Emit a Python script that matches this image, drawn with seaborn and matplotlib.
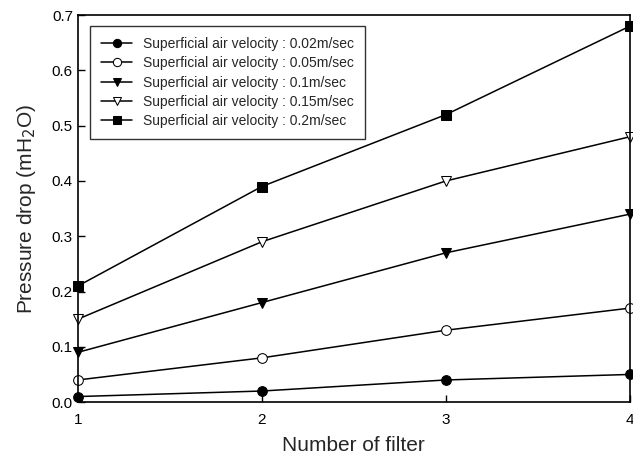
import matplotlib
matplotlib.use("Agg")
import matplotlib.pyplot as plt
import seaborn as sns
import pandas as pd

filters = [1, 2, 3, 4]
v002 = [0.01, 0.02, 0.04, 0.05]
v005 = [0.04, 0.08, 0.13, 0.17]
v010 = [0.09, 0.18, 0.27, 0.34]
v015 = [0.15, 0.29, 0.40, 0.48]
v020 = [0.21, 0.39, 0.52, 0.68]
labels = ["Superficial air velocity : 0.02m/sec",
          "Superficial air velocity : 0.05m/sec",
          "Superficial air velocity : 0.1m/sec",
          "Superficial air velocity : 0.15m/sec",
          "Superficial air velocity : 0.2m/sec"]
series = [v002, v005, v010, v015, v020]
markers = ["o", "o", "v", "v", "s"]
faces = ["black", "white", "black", "white", "black"]

sns.set_theme(style="ticks")
plt.rcParams['font.family'] = ['Liberation Sans', 'DejaVu Sans']

rows = []
for lab, vals in zip(labels, series):
    for f, v in zip(filters, vals):
        rows.append({"filter": f, "drop": v, "series": lab})
df = pd.DataFrame(rows)

fig = plt.figure(figsize=(6.33, 4.59), dpi=100)
ax = fig.add_axes([0.123, 0.124, 0.872, 0.843])

for lab, m, fc in zip(labels, markers, faces):
    sub = df[df["series"] == lab]
    sns.lineplot(data=sub, x="filter", y="drop", ax=ax, color="black",
                 marker=m, markerfacecolor=fc, markeredgecolor="black",
                 markersize=7, linewidth=1.1, label=lab, clip_on=False)

ax.set_xlim(1, 4)
ax.set_ylim(0, 0.7)
ax.set_xticks(filters)
ax.set_yticks([0.0, 0.1, 0.2, 0.3, 0.4, 0.5, 0.6, 0.7])
ax.set_yticklabels(["0.0", "0.1", "0.2", "0.3", "0.4", "0.5", "0.6", "0.7"])
ax.tick_params(direction="in", length=5, width=1, labelsize=11, colors="black")
ax.tick_params(axis="x", pad=8)
for s in ax.spines.values():
    s.set_linewidth(1.2)
    s.set_color("black")
ax.set_xlabel("Number of filter", fontsize=15, labelpad=6)
ax.set_ylabel("Pressure drop (mH$_2$O)", fontsize=15, labelpad=10)

leg = ax.legend(loc="upper left", bbox_to_anchor=(0.01, 0.99), fontsize=10,
                frameon=True, fancybox=False, edgecolor="black",
                handlelength=2.2, borderpad=0.8, labelspacing=0.38,
                markerscale=0.85)
leg.get_frame().set_linewidth(1.0)

fig.savefig("out.png", dpi=100)
